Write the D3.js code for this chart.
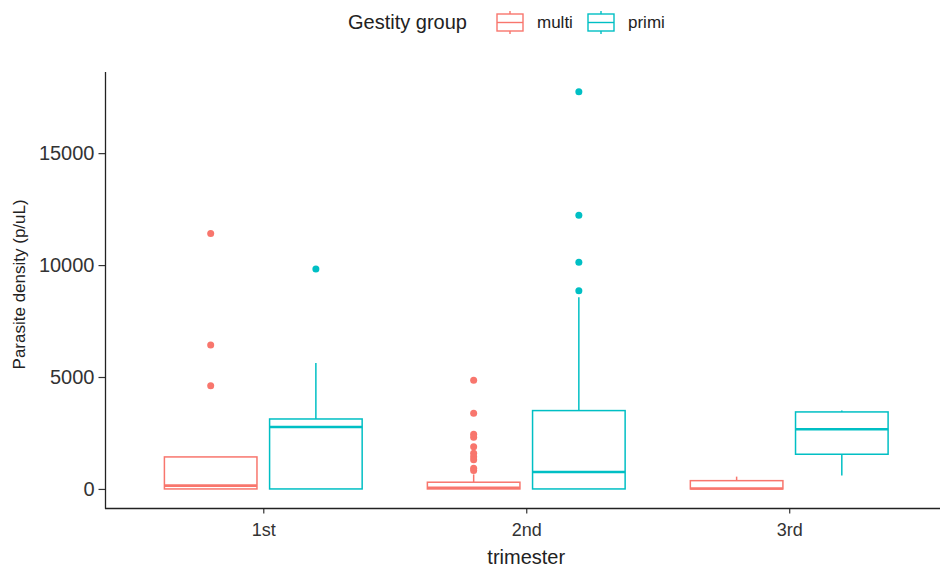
<!DOCTYPE html>
<html>
<head>
<meta charset="utf-8">
<script src="https://cdn.jsdelivr.net/npm/d3@7"></script>
<style>
  body { margin: 0; background: #fff; }
  text { font-family: 'Liberation Sans', Arial, sans-serif; }
</style>
</head>
<body>
<script>
// data
var categories = ['1st', '2nd', '3rd'];
var groups = ['multi', 'primi'];

// [lower whisker, q1, median, q3, upper whisker] per trimester
var multiBox = [
  [0, 0, 150, 1430, 1430],
  [0, 0, 50, 300, 650],
  [0, 0, 20, 370, 550]
];
var primiBox = [
  [0, 0, 2770, 3125, 5625],
  [0, 0, 760, 3500, 8560],
  [595, 1550, 2665, 3440, 3500]
];

var multiOutliers = [
  [4610, 6430, 11410],
  [4850, 3380, 2440, 2310, 1890, 1590, 1440, 1300, 920, 820],
  []
];
var primiOutliers = [
  [9820],
  [8850, 10130, 12220, 17740],
  []
];

var yTicks = [0, 5000, 10000, 15000];
var COLORS = { multi: '#F8766D', primi: '#00BFC4' };

var w = 940, h = 572;

var svg = d3.select('body').append('svg')
  .attr('width', w)
  .attr('height', h);

var x = d3.scalePoint()
  .domain(categories)
  .range([105.5, 947])
  .padding(0.6);

var y = d3.scaleLinear()
  .domain([-887, 18624])
  .range([508.8, 72]);

var step = x.step();
var boxW = step * 0.352;
var dodge = { multi: -step * 0.2, primi: step * 0.2 };

var rows = [];
categories.forEach(function(c, i) {
  rows.push({ cat: c, grp: 'multi', s: multiBox[i], out: multiOutliers[i] });
  rows.push({ cat: c, grp: 'primi', s: primiBox[i], out: primiOutliers[i] });
});

var boxes = svg.append('g').selectAll('g.box')
    .data(rows)
  .enter().append('g')
    .attr('class', 'box')
    .attr('transform', function(d) { return 'translate(' + (x(d.cat) + dodge[d.grp]) + ',0)'; });

// whiskers
boxes.append('line')
  .attr('x1', 0).attr('x2', 0)
  .attr('y1', function(d) { return y(d.s[3]); })
  .attr('y2', function(d) { return y(d.s[4]); });
boxes.append('line')
  .attr('x1', 0).attr('x2', 0)
  .attr('y1', function(d) { return y(d.s[1]); })
  .attr('y2', function(d) { return y(d.s[0]); });

boxes.append('rect')
  .attr('x', -boxW / 2)
  .attr('width', boxW)
  .attr('y', function(d) { return y(d.s[3]); })
  .attr('height', function(d) { return y(d.s[1]) - y(d.s[3]); })
  .attr('fill', '#fff');

boxes.append('line')
  .attr('class', 'median')
  .attr('x1', -boxW / 2).attr('x2', boxW / 2)
  .attr('y1', function(d) { return y(d.s[2]); })
  .attr('y2', function(d) { return y(d.s[2]); })
  .attr('stroke-width', 2.6);

boxes.selectAll('line, rect')
  .attr('stroke', function(d) { return COLORS[d.grp]; })
  .filter(function() { return !this.classList.contains('median'); })
  .attr('stroke-width', 1.5);

boxes.selectAll('circle')
    .data(function(d) { return d.out.map(function(v) { return { v: v, grp: d.grp }; }); })
  .enter().append('circle')
    .attr('cx', 0)
    .attr('cy', function(d) { return y(d.v); })
    .attr('r', 3.5)
    .attr('fill', function(d) { return COLORS[d.grp]; });

// axes
var yAxis = svg.append('g')
  .attr('transform', 'translate(105.5,0)')
  .call(d3.axisLeft(y).tickValues(yTicks).tickFormat(d3.format('d')).tickSize(7).tickPadding(4));
yAxis.select('.domain').remove();
yAxis.append('line')
  .attr('y1', y.range()[0])
  .attr('y2', y.range()[1])
  .attr('stroke', '#222')
  .attr('stroke-width', 1.3);
yAxis.selectAll('.tick line').attr('stroke', '#333').attr('stroke-width', 1.2);
yAxis.selectAll('.tick text')
  .style('font-size', '20px')
  .attr('fill', '#333');

var xAxis = svg.append('g')
  .attr('transform', 'translate(0,508.5)')
  .call(d3.axisBottom(x).tickSize(5).tickPadding(10));
xAxis.select('.domain').remove();
xAxis.append('line')
  .attr('x1', 105)
  .attr('x2', w)
  .attr('stroke', '#222')
  .attr('stroke-width', 1.3);
xAxis.selectAll('.tick line').attr('stroke', '#333').attr('stroke-width', 1.2);
xAxis.selectAll('.tick text')
  .style('font-size', '18px')
  .attr('fill', '#333');

svg.append('text')
  .attr('x', x('2nd'))
  .attr('y', 564)
  .attr('text-anchor', 'middle')
  .style('font-size', '20px')
  .attr('fill', '#222')
  .text('trimester');

svg.append('text')
  .attr('transform', 'translate(25,' + ((y.range()[0] + y.range()[1]) / 2 - 6) + ') rotate(-90)')
  .attr('text-anchor', 'middle')
  .style('font-size', '17px')
  .attr('fill', '#222')
  .text('Parasite density (p/uL)');

// legend
var legend = svg.append('g');
legend.append('text')
  .attr('x', 348)
  .attr('y', 29)
  .style('font-size', '20px')
  .attr('fill', '#222')
  .text('Gestity group');

var keyX = { multi: 497, primi: 588 };
var keys = legend.selectAll('g.key')
    .data(groups)
  .enter().append('g')
    .attr('class', 'key')
    .attr('transform', function(d) { return 'translate(' + keyX[d] + ',0)'; });

keys.append('line')
  .attr('x1', 13).attr('x2', 13).attr('y1', 11).attr('y2', 34);
keys.append('rect')
  .attr('x', 0).attr('y', 14).attr('width', 26).attr('height', 17)
  .attr('fill', '#fff');
keys.append('line')
  .attr('x1', 0).attr('x2', 26).attr('y1', 22.5).attr('y2', 22.5);
keys.selectAll('line, rect')
  .attr('stroke', function() { return COLORS[d3.select(this.parentNode).datum()]; })
  .attr('stroke-width', 1.4);

keys.append('text')
  .attr('x', 40)
  .attr('y', 28)
  .style('font-size', '17px')
  .attr('fill', '#222')
  .text(function(d) { return d; });
</script>
</body>
</html>
